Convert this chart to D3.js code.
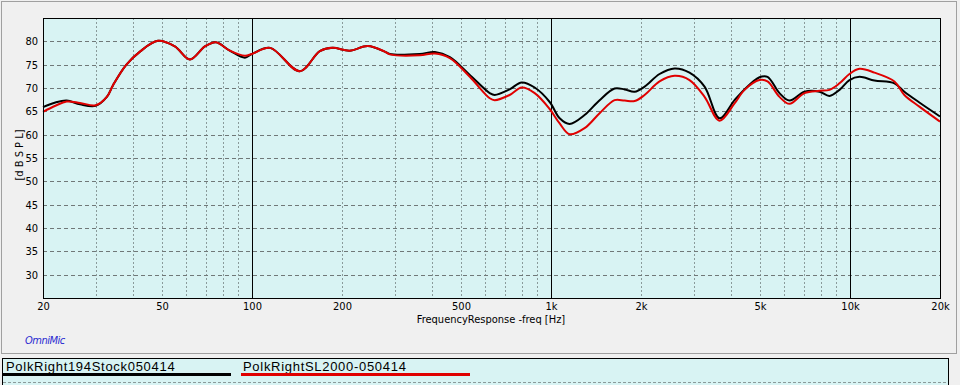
<!DOCTYPE html>
<html>
<head>
<meta charset="utf-8">
<script src="https://cdn.jsdelivr.net/npm/d3@7"></script>
<style>
  body { margin: 0; background: #f0f0f0; }
  svg { display: block; }
  .tick text { font-family: 'Liberation Sans Narrow', 'DejaVu Sans Condensed', sans-serif; font-stretch: condensed; font-size: 11px; fill: #000; }
</style>
</head>
<body>
<div id="chart"></div>
<script>
// frequencies in Hz
const freqs = [20, 22, 24, 26.6, 30, 32.7, 34.3, 37.9, 42.2, 48.5, 55.2, 62, 69.6, 75.7, 84.3, 94.7, 100,
  115, 144.5, 168.6, 186, 212, 244, 278, 289, 364, 409, 459, 535, 624, 648, 727, 798, 882, 990,
  1069, 1154, 1295, 1454, 1632, 1763, 1904, 2056, 2307, 2590, 2906, 3263, 3662, 4110, 4440, 4982,
  5298, 5810, 6276, 7044, 7906, 8540, 9222, 9960, 10758, 12072, 14080, 15200, 17060, 20000];

// dB SPL, PolkRight194Stock050414
const stockSpl = [65.9, 66.9, 67.3, 66.5, 66.2, 68.1, 70.6, 74.9, 77.8, 80.1, 78.9, 76.1, 78.9, 79.8, 78.0, 76.5, 77.3,
  78.6, 73.6, 77.9, 78.6, 78.0, 79.0, 77.8, 77.3, 77.3, 77.7, 76.6, 72.8, 68.9, 68.5, 69.7, 71.2, 70.1, 67.0,
  63.5, 62.3, 64.2, 67.4, 69.9, 69.7, 69.2, 70.3, 73.0, 74.2, 73.3, 70.3, 63.5, 67.4, 69.7, 72.3,
  72.4, 68.9, 67.3, 69.2, 69.2, 68.3, 69.6, 71.7, 72.4, 71.6, 71.0, 69.2, 66.9, 63.9];

// dB SPL, PolkRightSL2000-050414
const sl2000Spl = [64.9, 66.2, 67.1, 66.8, 66.3, 68.1, 70.6, 74.9, 77.8, 80.1, 78.9, 76.1, 78.9, 79.8, 78.0, 76.9, 77.3,
  78.6, 73.6, 77.9, 78.6, 78.0, 79.0, 77.8, 77.2, 77.0, 77.4, 76.4, 72.4, 67.8, 67.4, 68.5, 70.1, 68.9, 65.5,
  62.4, 60.1, 61.4, 64.6, 67.4, 67.3, 67.2, 68.5, 71.4, 72.6, 71.7, 68.1, 63.0, 66.7, 69.6, 71.7,
  71.4, 68.1, 66.6, 68.9, 69.4, 69.6, 71.0, 73.0, 74.1, 73.3, 71.4, 68.5, 66.0, 62.8];

const xTickValues = [20, 50, 100, 200, 500, 1000, 2000, 5000, 10000, 20000];
const xTickLabels = ['20', '50', '100', '200', '500', '1k', '2k', '5k', '10k', '20k'];
const yTickValues = [30, 35, 40, 45, 50, 55, 60, 65, 70, 75, 80];
const decades = [100, 1000, 10000];

const series = [
  { name: 'PolkRight194Stock050414', values: stockSpl, color: '#000000' },
  { name: 'PolkRightSL2000-050414', values: sl2000Spl, color: '#e00000' }
];

const config = {
  width: 960, height: 385,
  margin: { left: 43, top: 18, right: 20, bottom: 87 }
};

const { width, height, margin } = config;
const innerW = width - margin.left - margin.right;
const innerH = height - margin.top - margin.bottom;
const labelFont = "'Liberation Sans Narrow', 'DejaVu Sans Condensed', sans-serif";

const svg = d3.select('#chart').append('svg')
  .attr('width', width)
  .attr('height', height);

// outer panel
svg.append('rect')
  .attr('x', 1.5).attr('y', 1.5)
  .attr('width', 955).attr('height', 352)
  .attr('fill', '#f0f0f0')
  .attr('stroke', '#a0a0a0');

const chart = svg.append('g').attr('transform', `translate(${margin.left}, ${margin.top})`);

const xScale = d3.scaleLog().domain([20, 20000]).range([0, innerW]);
const yScale = d3.scaleLinear().domain([25, 85]).range([innerH, 0]);

chart.append('rect')
  .attr('width', innerW).attr('height', innerH)
  .attr('fill', '#d8f3f3');

// minor vertical grid (2..9 of every decade, inside the plot)
const minor = [];
[10, 100, 1000].forEach(d => {
  for (let k = 2; k <= 9; k++) {
    const f = d * k;
    if (f > 20 && f < 20000) minor.push(f);
  }
});

chart.selectAll('.vgrid')
  .data(minor)
  .join('line')
  .attr('class', 'vgrid')
  .attr('x1', d => Math.round(xScale(d)) + 0.5)
  .attr('x2', d => Math.round(xScale(d)) + 0.5)
  .attr('y1', 0).attr('y2', innerH)
  .attr('stroke', '#8a9a9a')
  .attr('stroke-dasharray', '2,2');

chart.selectAll('.hgrid')
  .data(yTickValues)
  .join('line')
  .attr('class', 'hgrid')
  .attr('x1', 0).attr('x2', innerW)
  .attr('y1', d => Math.round(yScale(d)) + 0.5)
  .attr('y2', d => Math.round(yScale(d)) + 0.5)
  .attr('stroke', '#707878')
  .attr('stroke-dasharray', '4,3');

chart.selectAll('.decade')
  .data(decades)
  .join('line')
  .attr('class', 'decade')
  .attr('x1', d => Math.round(xScale(d)) + 0.5)
  .attr('x2', d => Math.round(xScale(d)) + 0.5)
  .attr('y1', 0).attr('y2', innerH)
  .attr('stroke', '#000');

// curves
const line = d3.line()
  .x(d => xScale(d[0]))
  .y(d => yScale(d[1]))
  .curve(d3.curveCatmullRom.alpha(0.5));

chart.selectAll('.curve')
  .data(series)
  .join('path')
  .attr('class', 'curve')
  .attr('fill', 'none')
  .attr('stroke', d => d.color)
  .attr('stroke-width', 2)
  .attr('d', d => line(freqs.map((f, i) => [f, d.values[i]])));

chart.append('rect')
  .attr('x', 0.5).attr('y', 0.5)
  .attr('width', innerW).attr('height', innerH)
  .attr('fill', 'none')
  .attr('stroke', '#000');

// axes
const xAxis = chart.append('g').attr('transform', `translate(0, ${innerH})`)
  .call(d3.axisBottom(xScale)
    .tickValues(xTickValues)
    .tickFormat((d, i) => xTickLabels[i])
    .tickSize(0).tickPadding(4));
xAxis.select('.domain').remove();

const yAxis = chart.append('g')
  .call(d3.axisLeft(yScale).tickValues(yTickValues).tickSize(0).tickPadding(5));
yAxis.select('.domain').remove();

svg.append('text')
  .attr('x', 491).attr('y', 323)
  .attr('text-anchor', 'middle')
  .style('font-family', labelFont)
  .style('font-stretch', 'condensed')
  .style('font-size', '11px')
  .text('FrequencyResponse -freq [Hz]');

svg.append('text')
  .attr('transform', 'translate(23, 155) rotate(-90)')
  .attr('text-anchor', 'middle')
  .style('font-family', labelFont)
  .style('font-stretch', 'condensed')
  .style('font-size', '11px')
  .text('[d B S P L]');

svg.append('text')
  .attr('x', 25).attr('y', 344)
  .style('font-family', labelFont)
  .style('font-stretch', 'condensed')
  .style('font-size', '11px')
  .style('font-style', 'italic')
  .style('letter-spacing', '-0.5px')
  .attr('fill', '#2a2ad0')
  .text('OmniMic');

// legend
const legend = svg.append('g');
legend.append('rect')
  .attr('x', 2.5).attr('y', 358.5)
  .attr('width', 946).attr('height', 30)
  .attr('fill', '#d8f3f3')
  .attr('stroke', '#000');
legend.append('line')
  .attr('x1', 3).attr('x2', 948).attr('y1', 382.5).attr('y2', 382.5)
  .attr('stroke', '#8a9a9a').attr('stroke-dasharray', '3,2');

const legendX = [6, 243];
const legendLine = [[3, 231], [241, 470]];
legend.selectAll('.ltext')
  .data(series)
  .join('text')
  .attr('class', 'ltext')
  .attr('x', (d, i) => legendX[i]).attr('y', 371)
  .style('font-family', "'Liberation Sans', Arial, sans-serif")
  .style('font-size', '13px')
  .style('letter-spacing', '0.7px')
  .text(d => d.name);
legend.selectAll('.lline')
  .data(series)
  .join('line')
  .attr('class', 'lline')
  .attr('x1', (d, i) => legendLine[i][0]).attr('x2', (d, i) => legendLine[i][1])
  .attr('y1', 374.5).attr('y2', 374.5)
  .attr('stroke', d => d.color)
  .attr('stroke-width', 3);
</script>
</body>
</html>
